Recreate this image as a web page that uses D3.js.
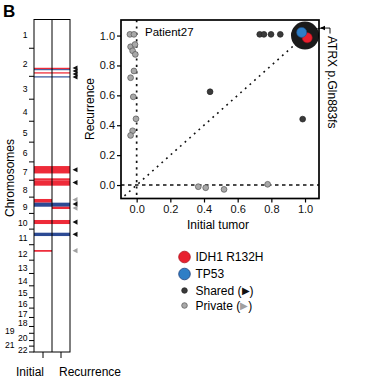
<!DOCTYPE html>
<html><head><meta charset="utf-8">
<script src="https://cdn.jsdelivr.net/npm/d3@7"></script>
<style>
body{margin:0;background:#fff;}
svg{display:block;font-family:"Liberation Sans",Arial,sans-serif;}
</style></head><body>
<svg id="c" width="365" height="390"></svg>
<script>
// ---------- data ----------
const chromosomes = ["1","2","3","4","5","6","7","8","9","10","11","12","13","14","15","16","17","18","19","20","21","22"];
const chromLengths = [249,243,198,191,181,171,159,146,141,136,135,134,115,107,103,90,81,78,59,63,48,51];
// copy-number segments: chromosome, start/end (Mb), column, type
const segChrom  = ["2","2","2","3","7","7","8","9","9","9","9","10","11","12"];
const segStart  = [169,181,208,0,36,142,0,16,48,48,83,57,31,46];
const segEnd    = [181,190,219,10,100,159,47,48,83,83,103,92,60,61];
const segColumn = ["both","both","both","both","both","both","both","Initial","Initial","Recurrence","Recurrence","both","both","Initial"];
const segType   = ["gain","loss","gain","loss","gain","gain","gain","gain","loss","loss","gain","gain","loss","gain"];
// arrowheads marking events
const arrowChrom  = ["2","2","2","3","7","8","9","9","9","10","11","12"];
const arrowPos    = [171,197,223,6,68,20,22,60,95,75,45,52];
const arrowStatus = ["shared","shared","shared","shared","shared","shared","private","shared","private","shared","shared","private"];
const columns = ["Initial","Recurrence"];

// scatter: cancer cell fractions
const privateX = [-0.04,-0.016,-0.036,-0.01,-0.024,-0.008,-0.016,-0.036,-0.02,-0.004,-0.024,-0.036,0.366,0.41,0.519,0.778];
const privateY = [1.008,1.008,0.925,0.94,0.898,0.874,0.763,0.718,0.59,0.443,0.363,0.332,-0.011,-0.018,-0.029,0.005];
const sharedX = [0.731,0.756,0.798,0.853,0.937,0.436,0.986];
const sharedY = [1.008,1.008,1.008,1.008,1.008,0.624,0.441];
const driverNames = ["ATRX p.Gln883fs","IDH1 R132H","TP53"];
const driverX = [1.0,1.013,0.98];
const driverY = [1.0,0.985,1.021];
const axisTicks = [0.0,0.2,0.4,0.6,0.8,1.0];
const legendLabels = ["IDH1 R132H","TP53","Shared","Private"];

// ---------- styles ----------
const RED="#ee2b39", BLUE="#2c4a94", LBLUE="#2f7ec6", DARK="#3a3a3a", GRAY="#a8a8a8";
const svg = d3.select("#c");

svg.append("text").attr("x",3).attr("y",17).attr("font-size",17).attr("font-weight","bold").text("B");

// ---------- chromosome panel ----------
const cum = [0]; chromLengths.forEach((l,i)=>cum.push(cum[i]+l));
const gy = d3.scaleLinear().domain([0,cum[cum.length-1]]).range([19.5,352]);
const colX = d3.scaleBand().domain(columns).range([34,70]);
const posY = (c,p)=>gy(cum[chromosomes.indexOf(c)]+p);
const cp = svg.append("g");
segChrom.forEach((c,i)=>{
  const cols = segColumn[i]==="both"?columns:[segColumn[i]];
  cols.forEach(col=>{
    cp.append("rect").attr("x",colX(col)).attr("width",colX.bandwidth())
      .attr("y",posY(c,segStart[i])).attr("height",posY(c,segEnd[i])-posY(c,segStart[i]))
      .attr("fill",segType[i]==="gain"?RED:BLUE);
  });
});
// frame
cp.append("rect").attr("x",34).attr("y",19.5).attr("width",36).attr("height",332.5)
  .attr("fill","none").attr("stroke","#000").attr("stroke-width",1);
cp.append("line").attr("x1",colX("Recurrence")).attr("x2",colX("Recurrence")).attr("y1",19.5).attr("y2",352).attr("stroke","#000");
// left axis ticks at chromosome boundaries
cum.slice(1).forEach(v=>{
  cp.append("line").attr("x1",29).attr("x2",34).attr("y1",gy(v)).attr("y2",gy(v)).attr("stroke","#000");
});
chromosomes.forEach((c,i)=>{
  const mid = gy((cum[i]+cum[i+1])/2);
  const shift = (c==="19"||c==="21")?13:0;
  cp.append("text").attr("x",27.5-shift).attr("y",mid+4.3).attr("text-anchor","end")
    .attr("font-size",8.6).text(c);
});
// bottom ticks and labels
columns.forEach(col=>{
  const x = colX(col)+colX.bandwidth()/2;
  cp.append("line").attr("x1",x).attr("x2",x).attr("y1",352).attr("y2",358).attr("stroke","#000");
});
cp.append("text").attr("x",44).attr("y",376).attr("text-anchor","end").attr("font-size",12).text("Initial");
cp.append("text").attr("x",59).attr("y",376).attr("font-size",12).text("Recurrence");
cp.append("text").attr("transform","translate(14,178) rotate(-90)").attr("text-anchor","middle")
  .attr("font-size",12).text("Chromosomes");
// arrowheads
arrowChrom.forEach((c,i)=>{
  const y = posY(c,arrowPos[i]);
  cp.append("path").attr("d",`M72.5,${y}L77.5,${y-2.6}L77.5,${y+2.6}Z`)
    .attr("fill",arrowStatus[i]==="shared"?"#111":"#a0a0a0");
});

// ---------- scatter ----------
const x = d3.scaleLinear().domain([-0.093,1.083]).range([121,319]);
const y = d3.scaleLinear().domain([-0.09,1.104]).range([198.5,20]);
const sp = svg.append("g");
svg.append("clipPath").attr("id","clip").append("rect").attr("x",121).attr("y",20).attr("width",198).attr("height",178.5);
const lines = sp.append("g").attr("clip-path","url(#clip)").attr("stroke","#111").attr("fill","none");
lines.append("line").attr("x1",121).attr("x2",319).attr("y1",y(0)).attr("y2",y(0)).attr("stroke-width",1.4).attr("stroke-dasharray","3.5,3.5");
lines.append("line").attr("x1",x(0)).attr("x2",x(0)).attr("y1",20).attr("y2",198.5).attr("stroke-width",1.7).attr("stroke-dasharray","2.2,4.2");
lines.append("line").attr("x1",x(-0.1)).attr("x2",x(1)).attr("y1",y(-0.1)).attr("y2",y(1)).attr("stroke-width",1.6).attr("stroke-dasharray","1.8,4.4");

privateX.forEach((v,i)=>{
  sp.append("circle").attr("cx",x(v)).attr("cy",y(privateY[i])).attr("r",2.9)
    .attr("fill",GRAY).attr("stroke","#555").attr("stroke-width",0.7);
});
sharedX.forEach((v,i)=>{
  sp.append("circle").attr("cx",x(v)).attr("cy",y(sharedY[i])).attr("r",2.9)
    .attr("fill",DARK).attr("stroke","#222").attr("stroke-width",0.7);
});
sp.append("circle").attr("cx",x(driverX[0])).attr("cy",y(driverY[0])).attr("r",14).attr("fill","#1b1b1b");
sp.append("circle").attr("cx",x(driverX[1])).attr("cy",y(driverY[1])).attr("r",5).attr("fill","#e8202e").attr("stroke","#b0101c").attr("stroke-width",0.6);
sp.append("circle").attr("cx",x(driverX[2])).attr("cy",y(driverY[2])).attr("r",5).attr("fill",LBLUE).attr("stroke","#1f4f8a").attr("stroke-width",0.6);

// frame
sp.append("rect").attr("x",121).attr("y",20).attr("width",198).attr("height",178.5)
  .attr("fill","none").attr("stroke","#000").attr("stroke-width",1.7);
// axes
const xa = sp.append("g").attr("transform","translate(0,198.5)")
  .call(d3.axisBottom(x).tickValues(axisTicks).tickFormat(d3.format(".1f")).tickSize(4).tickPadding(3));
const ya = sp.append("g").attr("transform","translate(121,0)")
  .call(d3.axisLeft(y).tickValues(axisTicks).tickFormat(d3.format(".1f")).tickSize(4).tickPadding(2));
[xa,ya].forEach(a=>{
  a.select(".domain").remove();
  a.selectAll("line").attr("stroke","#000").attr("stroke-width",1.2);
  a.selectAll("text").attr("font-size",11).attr("fill","#111").attr("font-family","Liberation Sans, Arial, sans-serif");
});
sp.append("text").attr("x",218).attr("y",229).attr("text-anchor","middle").attr("font-size",12).text("Initial tumor");
sp.append("text").attr("transform","translate(94,109) rotate(-90)").attr("text-anchor","middle").attr("font-size",12).text("Recurrence");
sp.append("text").attr("x",145).attr("y",36).attr("font-size",11.5).text("Patient27");

// ATRX annotation
const ax = x(driverX[0]), ay = y(driverY[0]);
sp.append("path").attr("d",`M${ax+11},${ay-6.5}L322,${ay-7.5}`).attr("stroke","#000").attr("stroke-width",0.8).attr("fill","none");
sp.append("path").attr("d",`M321,${ay-7.5}L330,${ay-7.5}L330,${ay-2}`).attr("stroke","#000").attr("stroke-width",0.9).attr("fill","none");
sp.append("path").attr("d",`M320,${ay-7.5}L325,${ay-9.8}L325,${ay-5.2}Z`).attr("fill","#000");
sp.append("text").attr("transform","translate(327.5,36) rotate(90)").attr("font-size",12).text(driverNames[0]);

// ---------- legend ----------
const lg = svg.append("g");
const ly = [257,274,290.5,305.5];
lg.append("circle").attr("cx",184.5).attr("cy",ly[0]).attr("r",5.8).attr("fill","#e8202e").attr("stroke","#b0101c").attr("stroke-width",0.8);
lg.append("circle").attr("cx",184.5).attr("cy",ly[1]).attr("r",5.8).attr("fill",LBLUE).attr("stroke","#1f3f7a").attr("stroke-width",0.8);
lg.append("circle").attr("cx",184.5).attr("cy",ly[2]).attr("r",2.8).attr("fill",DARK).attr("stroke","#222").attr("stroke-width",0.7);
lg.append("circle").attr("cx",184.5).attr("cy",ly[3]).attr("r",2.8).attr("fill",GRAY).attr("stroke","#555").attr("stroke-width",0.7);
legendLabels.forEach((t,i)=>{
  const tx = lg.append("text").attr("x",195.5).attr("y",ly[i]+4.3).attr("font-size",12);
  tx.append("tspan").text(t);
  if(i>=2){
    tx.append("tspan").text(" (");
    tx.append("tspan").attr("font-size",9.5).attr("dy",-0.5).attr("fill",i===2?"#111":"#a0a0a0").text("▶");
    tx.append("tspan").attr("dy",0.5).text(")");
  }
});
</script></body></html>
